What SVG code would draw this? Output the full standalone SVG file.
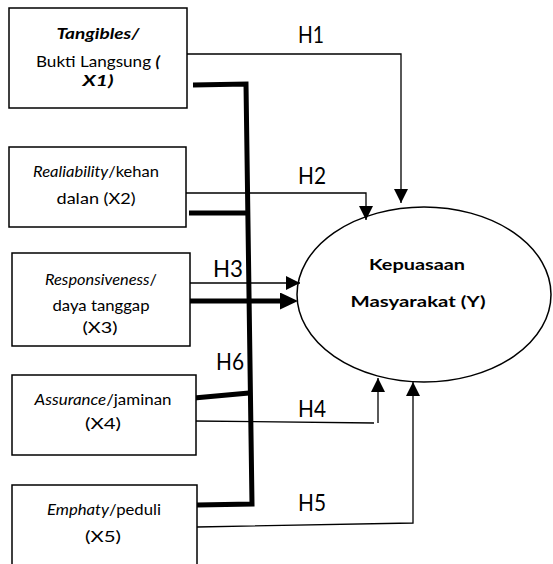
<svg xmlns="http://www.w3.org/2000/svg" width="553" height="564" viewBox="0 0 553 564">
<style>
.box{fill:#fff;stroke:#000;stroke-width:1.5}
.t{font-family:Lato,"Open Sans","Liberation Sans",sans-serif;font-size:16px;fill:#000;text-anchor:middle}
.h{font-family:Lato,"Open Sans","Liberation Sans",sans-serif;font-size:24px;fill:#000}
.thin{fill:none;stroke:#000;stroke-width:1.3}
.thick{fill:none;stroke:#000;stroke-width:5}
.b{font-weight:bold}
.i{font-style:italic}
</style>
<defs>
<marker id="arr" markerUnits="userSpaceOnUse" markerWidth="15" markerHeight="15" refX="14" refY="7" orient="auto">
<path d="M0,0 L14,7 L0,14 z" fill="#000"/>
</marker>
<marker id="arrT" markerUnits="userSpaceOnUse" markerWidth="19" markerHeight="18" refX="8" refY="8.5" orient="auto">
<path d="M0,0 L18,8.5 L0,17 z" fill="#000"/>
</marker>
</defs>
<g id="connectors">
<path class="thin" d="M187,54 H401 V203" marker-end="url(#arr)"/>
<path class="thin" d="M186,193 H366 V220" marker-end="url(#arr)"/>
<path class="thin" d="M188,283 H300" marker-end="url(#arr)"/>
<path class="thick" d="M190,301 H288" marker-end="url(#arrT)"/>
<path class="thin" d="M194,421 L374,423"/>
<path class="thin" d="M378,423 V378" marker-end="url(#arr)"/>
<path class="thin" d="M197,527 L413,523 V382" marker-end="url(#arr)"/>
<path class="thick" d="M193,85 L246,84 L252,504 L197,505"/>
<path class="thick" d="M189,213 H248"/>
<path class="thick" d="M194,398 L249,393"/>
<text class="h" x="298" y="43" textLength="26" lengthAdjust="spacingAndGlyphs">H1</text>
<text class="h" x="298" y="184" textLength="28" lengthAdjust="spacingAndGlyphs">H2</text>
<text class="h" x="213" y="277" textLength="30" lengthAdjust="spacingAndGlyphs">H3</text>
<text class="h" x="216" y="370" textLength="28" lengthAdjust="spacingAndGlyphs">H6</text>
<text class="h" x="298" y="417" textLength="28" lengthAdjust="spacingAndGlyphs">H4</text>
<text class="h" x="298" y="511" textLength="28" lengthAdjust="spacingAndGlyphs">H5</text>
</g>
<g id="x1">
<rect class="box" x="9" y="8" width="178" height="100"/>
<text class="t b i" x="98" y="39" textLength="83" lengthAdjust="spacingAndGlyphs">Tangibles/</text>
<text class="t" x="98" y="67" textLength="124" lengthAdjust="spacingAndGlyphs">Bukti Langsung <tspan class="b i">(</tspan></text>
<text class="t b i" x="98" y="86" textLength="31" lengthAdjust="spacingAndGlyphs">X1)</text>
</g>
<g id="x2">
<rect class="box" x="9" y="147" width="177" height="80"/>
<text class="t" x="96" y="177" textLength="126" lengthAdjust="spacingAndGlyphs"><tspan class="i">Realiability</tspan>/kehan</text>
<text class="t" x="96" y="204" textLength="79" lengthAdjust="spacingAndGlyphs">dalan (X2)</text>
</g>
<g id="x3">
<rect class="box" x="12" y="253" width="178" height="93"/>
<text class="t" x="101" y="285" textLength="112" lengthAdjust="spacingAndGlyphs"><tspan class="i">Responsiveness</tspan>/</text>
<text class="t" x="101" y="311" textLength="97" lengthAdjust="spacingAndGlyphs">daya tanggap</text>
<text class="t" x="100" y="333" textLength="35" lengthAdjust="spacingAndGlyphs">(X3)</text>
</g>
<g id="x4">
<rect class="box" x="12" y="375" width="184" height="80"/>
<text class="t" x="103" y="405" textLength="137" lengthAdjust="spacingAndGlyphs"><tspan class="i">Assurance</tspan>/jaminan</text>
<text class="t" x="103" y="429" textLength="36" lengthAdjust="spacingAndGlyphs">(X4)</text>
</g>
<g id="x5">
<rect class="box" x="12" y="485" width="185" height="100"/>
<text class="t" x="104" y="515" textLength="114" lengthAdjust="spacingAndGlyphs"><tspan class="i">Emphaty</tspan>/peduli</text>
<text class="t" x="103" y="542" textLength="36" lengthAdjust="spacingAndGlyphs">(X5)</text>
</g>
<g id="y">
<ellipse cx="424" cy="294.5" rx="127" ry="87.5" fill="none" stroke="#000" stroke-width="1.5"/>
<text class="t b" x="417" y="270" textLength="96" lengthAdjust="spacingAndGlyphs">Kepuasaan</text>
<text class="t b" x="418" y="307" textLength="135" lengthAdjust="spacingAndGlyphs">Masyarakat (Y)</text>
</g>
</svg>
